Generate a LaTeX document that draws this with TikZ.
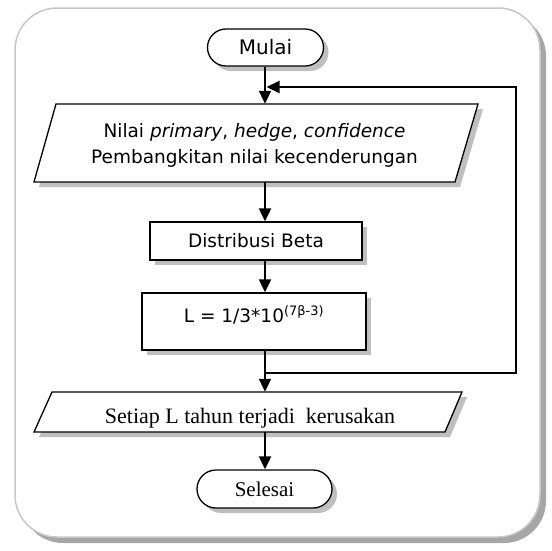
\documentclass[tikz,border=0pt]{standalone}
\usepackage{fontspec}
\setmainfont{Liberation Serif}
\newfontfamily\tah{DejaVu Sans}
\usetikzlibrary{shapes.geometric,shapes.misc,arrows.meta,shadows,calc}
\begin{document}
\begin{tikzpicture}[x=1pt,y=-1pt,
  shd/.style={drop shadow={shadow xshift=5pt,shadow yshift=-5pt,fill=black!25,opacity=1}},
  box/.style={draw,line width=1.3pt,fill=white,shd,inner sep=0pt,rectangle},
  term/.style={draw,line width=1.3pt,fill=white,shd,rounded rectangle,inner sep=0pt},
  ghost/.style={inner sep=0pt,rectangle},
  sansf/.style={font=\tah\fontsize{18.5}{26}\selectfont},
  seriff/.style={font=\fontsize{22}{26}\selectfont},
  arr/.style={line width=2pt,-{Triangle[length=13pt,width=12pt]}},
  ln/.style={line width=2pt}]
\useasboundingbox (0,0) rectangle (552,550);
% outer frame
\fill[black!35,rounded corners=42pt] (21,14) rectangle (546,543);
\draw[black!22,line width=1.5pt,fill=white,rounded corners=42pt] (15,8) rectangle (540,537);
% start
\node[term,font=\tah\fontsize{20}{24}\selectfont,minimum width=116pt,minimum height=37pt] (mulai) at (265.5,47.5) {Mulai};
% input parallelogram 1
\begin{scope}[shift={(5,5)}]
  \fill[black!25] (56,104) -- (478,104) -- (455,182) -- (34,182) -- cycle;
\end{scope}
\draw[line width=1.3pt,fill=white] (56,104) -- (478,104) -- (455,182) -- (34,182) -- cycle;
\node[ghost,minimum width=400pt,minimum height=78pt] (p1) at (256,143) {};
\node[sansf,align=center,inner sep=0pt,anchor=base] (p1t) at (254.5,163)
  {Nilai \textit{primary}, \textit{hedge}, \textit{confidence}\\Pembangkitan nilai kecenderungan};
% process boxes
\node[box,sansf,minimum width=212pt,minimum height=38pt] (db) at (256,241) {Distribusi Beta};
\node[box,minimum width=224pt,minimum height=57pt] (lb) at (254,321.5) {};
\node[sansf,inner sep=0pt,anchor=base] (lt) at (254,322) {L = 1/3*10\textsuperscript{(7β-3)}};
% output parallelogram 2
\begin{scope}[shift={(5,5)}]
  \fill[black!25] (52,392) -- (462,392) -- (445,432) -- (34,432) -- cycle;
\end{scope}
\draw[line width=1.3pt,fill=white] (52,392) -- (462,392) -- (445,432) -- (34,432) -- cycle;
\node[ghost,minimum width=380pt,minimum height=40pt] (p2) at (248,412) {};
\node[seriff,inner sep=0pt,anchor=base] (p2t) at (250,423) {Setiap L tahun terjadi\ \ kerusakan};
% end
\node[term,font=\fontsize{21}{25}\selectfont,minimum width=135pt,minimum height=38pt] (sel) at (264.5,489) {Selesai};
% connectors
\coordinate (ax) at (265,0);
\draw[arr] (ax |- mulai.south) -- (ax |- p1.north);
\draw[arr] (ax |- p1.south) -- (ax |- db.north);
\draw[arr] (ax |- db.south) -- (ax |- lb.north);
\draw[arr] (ax |- lb.south) -- (ax |- p2.north);
\draw[arr] (ax |- p2.south) -- (ax |- sel.north);
\coordinate (jb) at (265,373);
\coordinate (fr1) at (516,373);
\coordinate (fr2) at (516,87);
\coordinate (jt) at (266.5,87);
\draw[arr] (jb) -- (fr1) -- (fr2) -- (jt);
\end{tikzpicture}
\end{document}
